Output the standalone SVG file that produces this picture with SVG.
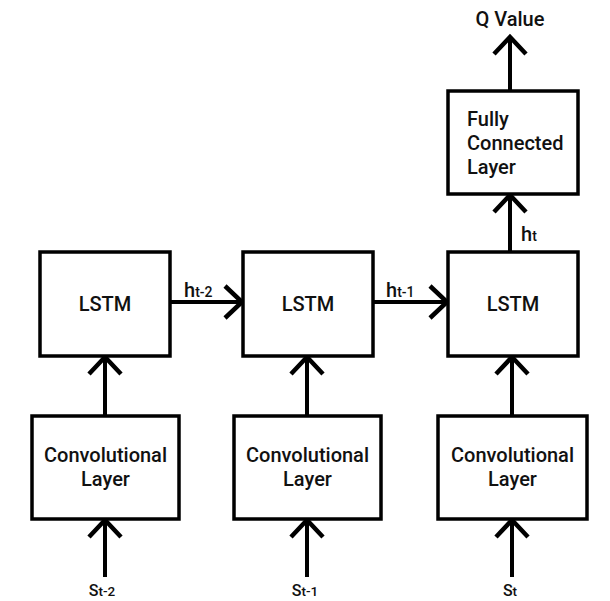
<svg xmlns="http://www.w3.org/2000/svg" width="610" height="601" viewBox="0 0 610 601">
<style>
.box{fill:#fff;stroke:#000;stroke-width:3.5}
.t{font-family:Roboto,"Liberation Sans",sans-serif;font-weight:500;font-size:20px;fill:#111}
.c{text-anchor:middle}
.sub{font-size:14px}
.s{font-size:16px}
.ss{font-size:13.5px}
.ln{stroke:#000;stroke-width:4;fill:none}
</style>
<defs>
<marker id="ah" markerUnits="userSpaceOnUse" markerWidth="48" markerHeight="48" refX="24" refY="24" orient="auto" viewBox="0 0 48 48">
<polyline points="7,8 24,24 7,40" fill="none" stroke="#000" stroke-width="4.5"/>
</marker>
</defs>
<g id="connectors">
<line class="ln" x1="105" y1="577" x2="105" y2="520" marker-end="url(#ah)"/>
<line class="ln" x1="307" y1="577" x2="307" y2="520" marker-end="url(#ah)"/>
<line class="ln" x1="512" y1="577" x2="512" y2="520" marker-end="url(#ah)"/>
<line class="ln" x1="105" y1="416" x2="105" y2="357" marker-end="url(#ah)"/>
<line class="ln" x1="307" y1="416" x2="307" y2="357" marker-end="url(#ah)"/>
<line class="ln" x1="512" y1="416" x2="512" y2="357" marker-end="url(#ah)"/>
<line class="ln" x1="170" y1="302" x2="242" y2="302" marker-end="url(#ah)"/>
<line class="ln" x1="373" y1="302" x2="447" y2="302" marker-end="url(#ah)"/>
<line class="ln" x1="510" y1="252" x2="510" y2="195" marker-end="url(#ah)"/>
<line class="ln" x1="510" y1="91" x2="510" y2="37" marker-end="url(#ah)"/>
<text class="t" x="184" y="297">h<tspan class="sub">t-2</tspan></text>
<text class="t" x="386" y="297">h<tspan class="sub">t-1</tspan></text>
<text class="t" x="521" y="241">h<tspan class="sub">t</tspan></text>
<text class="t c" x="510" y="26">Q Value</text>
<text class="t c s" x="102" y="596">S<tspan class="ss">t-2</tspan></text>
<text class="t c s" x="305" y="596">S<tspan class="ss">t-1</tspan></text>
<text class="t c s" x="510" y="596">S<tspan class="ss">t</tspan></text>
</g>
<g id="lstm1"><rect class="box" x="40" y="252" width="130" height="104"/><text class="t c" x="105" y="311">LSTM</text></g>
<g id="lstm2"><rect class="box" x="243" y="252" width="130" height="104"/><text class="t c" x="308" y="311">LSTM</text></g>
<g id="lstm3"><rect class="box" x="448" y="252" width="130" height="104"/><text class="t c" x="513" y="311">LSTM</text></g>
<g id="conv1"><rect class="box" x="32" y="416" width="147" height="103"/><text class="t c" x="105.5" y="462">Convolutional</text><text class="t c" x="105.5" y="486">Layer</text></g>
<g id="conv2"><rect class="box" x="234" y="416" width="147" height="103"/><text class="t c" x="307.5" y="462">Convolutional</text><text class="t c" x="307.5" y="486">Layer</text></g>
<g id="conv3"><rect class="box" x="438" y="416" width="149" height="103"/><text class="t c" x="512.5" y="462">Convolutional</text><text class="t c" x="512.5" y="486">Layer</text></g>
<g id="fc"><rect class="box" x="448" y="91" width="130" height="103"/><text class="t" x="467" y="126">Fully</text><text class="t" x="467" y="150">Connected</text><text class="t" x="467" y="174">Layer</text></g>
</svg>
